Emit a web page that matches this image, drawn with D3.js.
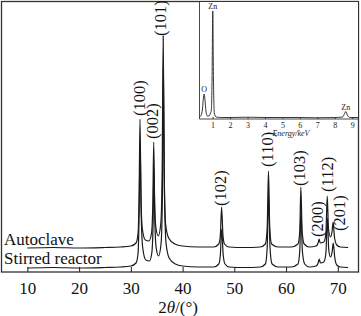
<!DOCTYPE html>
<html><head><meta charset="utf-8">
<script src="https://cdn.jsdelivr.net/npm/d3@7"></script>
<style>
html,body{margin:0;padding:0;background:#fff;}
svg{display:block;}
</style></head>
<body>
<svg id="c" width="361" height="316"></svg>
<script>
// ---- Data ----
const xTicks = [10, 20, 30, 40, 50, 60, 70];
const seriesNames = ["Autoclave", "Stirred reactor"];
// Autoclave XRD pattern (2θ, intensity)
const autoTheta = [10,15,20,25,28,30,31.0,31.4,31.6,31.77,31.95,32.2,32.8,33.5,34.0,34.25,34.42,34.6,34.85,35.3,35.8,36.05,36.25,36.45,36.7,37.3,38.5,40,43,46,47.0,47.3,47.54,47.8,48.1,49,52,55,56.0,56.35,56.6,56.85,57.2,58.5,61,62.3,62.65,62.86,63.1,63.5,64.5,65.8,66.2,66.38,66.6,67.3,67.7,67.96,68.2,68.6,68.9,69.1,69.35,69.8,70.5,72];
const autoInt   = [5,5.5,5,5.5,6,7,10,20,60,134,60,25,13,12,20,50,111,50,25,17,30,80,217,80,30,15,9,7,6,6,9,18,46,18,9,6,5.5,6,9,25,82,25,9,6,6,9,22,66,22,9,6,7,10,14,10,11,20,57,24,16,22,31,16,8,6,5.5];
// Stirred reactor XRD pattern (2θ, intensity)
const stirTheta = [10,15,20,25,28,30,31.0,31.4,31.6,31.8,32.0,32.3,32.9,33.6,34.05,34.3,34.45,34.65,34.9,35.35,35.85,36.1,36.28,36.5,36.8,37.4,38.6,40,43,46,47.0,47.3,47.56,47.85,48.2,49,52,55,56.0,56.35,56.62,56.9,57.3,58.5,61,62.3,62.65,62.88,63.15,63.6,64.5,65.8,66.2,66.4,66.65,67.3,67.7,67.98,68.25,68.6,68.9,69.12,69.4,69.8,70.5,72];
const stirInt   = [4,4.5,4,4.5,5,6,9,19,58,128,58,24,12,11,19,48,105,48,24,16,29,78,205,78,29,14,8,6,5,5,8,17,43,17,8,5,4.5,5,8,24,78,24,8,5,5,8,21,62,21,8,5,6,9,13,9,10,19,54,22,15,20,29,15,7,5,4.5];
// Peak labels (hkl)
const peakHKL   = ["(100)","(002)","(101)","(102)","(110)","(103)","(200)","(112)","(201)"];
const peakTheta = [31.77,34.42,36.25,47.54,56.60,62.86,66.38,67.96,69.10];
const peakInt   = [134,111,217,46,82,66,14,57,31];
// EDS inset spectrum (energy keV, counts)
const edsE = [0.25,0.35,0.42,0.48,0.52,0.56,0.62,0.70,0.80,0.88,0.93,0.97,1.01,1.05,1.10,1.20,1.5,2,3,4,5,6,7,8,8.45,8.55,8.63,8.72,8.85,9.33];
const edsC = [2,4,10,22,25,20,8,3,3,6,9,40,108,40,6,2,1.5,1.5,1.8,1.5,1.5,1.5,1.2,1.5,2,5,7.5,4,1.5,1.5];
const edsTicks = [1,2,3,4,5,6,7,8,9];
const edsLabels = ["O","Zn","Zn"];
const edsLabelE = [0.52,1.01,8.63];
const edsLabelC = [25,108,7.5];

// ---- Layout ----
const FONT = "'Liberation Serif', 'Times New Roman', serif";
const svg = d3.select("#c");
const L = 1.5, R = 358.5, T = 1.5, B = 272;
const x = d3.scaleLinear().domain([5, 74]).range([L, R]);
const y = d3.scaleLinear().domain([0, 271]).range([B, 1]);
const autoOffset = 19;
const ink = "#1a1a1a";

// main curves
const line = d3.line().x(d => x(d[0])).y(d => y(d[1])).curve(d3.curveMonotoneX);
svg.append("path").datum(stirTheta.map((t,i)=>[t, stirInt[i]]))
  .attr("d", line).attr("fill","none").attr("stroke",ink).attr("stroke-width",1.2);
svg.append("path").datum(autoTheta.map((t,i)=>[t, autoInt[i] + autoOffset]))
  .attr("d", line).attr("fill","none").attr("stroke",ink).attr("stroke-width",1.2);

// x axis
const ax = d3.axisBottom(x).tickValues(xTicks).tickSize(-5).tickPadding(10).tickFormat(d3.format("d"));
const gx = svg.append("g").attr("transform",`translate(0,${B})`).call(ax);
gx.select(".domain").remove();
gx.selectAll(".tick line").attr("stroke",ink).attr("stroke-width",1);
gx.selectAll(".tick text").style("font-family",FONT).style("font-size","17px").attr("fill","#111");

// frame
svg.append("rect").attr("x",L).attr("y",T).attr("width",R-L).attr("height",B-T)
  .attr("fill","none").attr("stroke","#333").attr("stroke-width",1.3);

// x title
const xt = svg.append("text").attr("x",178).attr("y",313).attr("text-anchor","middle")
  .style("font-family",FONT).style("font-size","17px").attr("fill","#111");
xt.append("tspan").text("2");
xt.append("tspan").style("font-style","italic").text("θ");
xt.append("tspan").text("/(°)");

// series labels
svg.append("text").attr("x",4).attr("y",245).style("font-family",FONT).style("font-size","17px").attr("fill","#111").text(seriesNames[0]);
svg.append("text").attr("x",4).attr("y",264).style("font-family",FONT).style("font-size","17px").attr("fill","#111").text(seriesNames[1]);

// peak labels
const labelDx = [-0.5,-1,-3,-1,-1,-1,-2,0,6];
const labelDy = [-3,-3,0,-1,-4,-1,-2,-4,9];
peakHKL.forEach((lab,i) => {
  const px = x(peakTheta[i]) + labelDx[i];
  const py = y(peakInt[i] + autoOffset) + labelDy[i];
  svg.append("text").attr("transform",`translate(${px},${py}) rotate(-90)`)
    .attr("text-anchor","start").attr("dominant-baseline","central")
    .style("font-family",FONT).style("font-size","16.5px").attr("fill","#111").text(lab);
});

// ---- Inset EDS ----
const iL = 199.5, iR = 358, iT = 2, iB = 119;
svg.append("rect").attr("x",iL).attr("y",iT).attr("width",iR-iL).attr("height",iB-iT).attr("fill","#fff");
const ex = d3.scaleLinear().domain([0.25, 9.33]).range([iL, iR]);
const ey = d3.scaleLinear().domain([0, 109]).range([iB, 10]);
svg.append("path").datum(edsE.map((e,i)=>[e, edsC[i]]))
  .attr("d", d3.line().x(d=>ex(d[0])).y(d=>ey(d[1])).curve(d3.curveMonotoneX))
  .attr("fill","none").attr("stroke","#222").attr("stroke-width",0.9);
const eax = d3.axisBottom(ex).tickValues(edsTicks).tickSize(-2).tickPadding(3).tickFormat(d3.format("d"));
const ge = svg.append("g").attr("transform",`translate(0,${iB})`).call(eax);
ge.select(".domain").remove();
ge.selectAll(".tick line").attr("stroke","#333");
ge.selectAll(".tick text").style("font-family",FONT).style("font-size","8px").attr("fill","#222");
svg.append("line").attr("x1",iL).attr("x2",iR).attr("y1",iB).attr("y2",iB).attr("stroke","#333").attr("stroke-width",0.9);
svg.append("line").attr("x1",iL).attr("x2",iL).attr("y1",iT).attr("y2",iB).attr("stroke","#333").attr("stroke-width",0.9);
svg.append("text").attr("x",291).attr("y",136).attr("text-anchor","middle")
  .style("font-family",FONT).style("font-size","8px").style("font-style","italic").attr("fill","#222").text("Energy/keV");
edsLabels.forEach((lab,i)=>{
  svg.append("text").attr("x",ex(edsLabelE[i])).attr("y",ey(edsLabelC[i])-2)
    .attr("text-anchor","middle").style("font-family",FONT).style("font-size","8px").attr("fill","#222").text(lab);
});
</script>
</body></html>
